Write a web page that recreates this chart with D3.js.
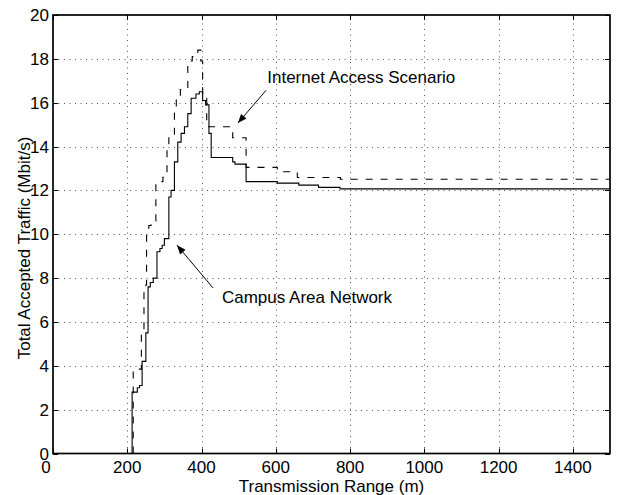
<!DOCTYPE html>
<html>
<head>
  <meta charset="UTF-8">
  <title>Total Accepted Traffic</title>
  <style>
    body { margin: 0; background: #fff; }
    text { font-family: "Liberation Sans", Arial, Helvetica, sans-serif; fill: #000; }
  </style>
</head>
<body>
<svg id="chart"></svg>
<script src="https://d3js.org/d3.v7.min.js"></script>
<script>

// Campus Area Network (solid line), step data
var campusRange = [213, 213, 227, 233, 240, 250, 256, 262, 270, 280, 288, 294, 300, 312, 318, 327, 336, 345, 354, 363, 372, 385, 394, 403, 411, 420, 426, 484, 490, 520, 604, 662, 715, 773, 1500]
var campusTraffic = [0, 2.8, 3.0, 3.1, 4.2, 5.5, 7.6, 7.8, 8.0, 9.2, 9.35, 9.5, 9.8, 11.7, 12.0, 13.3, 14.2, 14.6, 14.9, 15.5, 16.2, 16.4, 16.5, 16.1, 15.9, 14.6, 13.5, 13.3, 13.2, 12.4, 12.33, 12.24, 12.14, 12.07, 12.07]

// Internet Access Scenario (dashed line)
var internetRange = [216, 216, 238, 245, 250, 252, 258, 264, 277, 296, 307, 312, 327, 332, 343, 363, 375, 390, 398, 403, 414, 484, 520, 604, 658, 774, 1500]
var internetTraffic = [0, 3.85, 5.5, 7.4, 7.7, 10.1, 10.4, 10.6, 12.4, 12.6, 14.0, 14.5, 15.7, 16.2, 16.6, 17.9, 18.1, 18.4, 17.9, 16.2, 14.9, 14.4, 13.05, 12.85, 12.59, 12.51, 12.51]

var xTicks = [0, 200, 400, 600, 800, 1000, 1200, 1400]
var yTicks = [0, 2, 4, 6, 8, 10, 12, 14, 16, 18, 20]

// annotation text + arrow (tail -> tip), in data units
var labelNames = ["Internet Access Scenario", "Campus Area Network"]
var labelAt = [[577, 16.9], [455, 6.86]]
var arrowTail = [[574, 16.57], [431, 7.55]]
var arrowTip = [[498, 15.07], [334, 9.5]]

var width = 617, height = 495
var plotL = 53, plotR = 610, plotT = 15, plotB = 453.5

var svg = d3.select("#chart").attr("width", width).attr("height", height)

var x = d3.scaleLinear().domain([0, 1500]).range([plotL, plotR])
var y = d3.scaleLinear().domain([0, 20]).range([plotB, plotT])

// dotted grid
var grid = svg.append("g").attr("stroke", "#555").attr("stroke-width", 1).attr("stroke-dasharray", "1,4.5")
grid.selectAll("line.gx")
  .data(xTicks.filter(d => d > 0))
  .enter().append("line")
  .attr("x1", d => Math.round(x(d)) + 0.5).attr("x2", d => Math.round(x(d)) + 0.5)
  .attr("y1", plotB).attr("y2", plotT)
grid.selectAll("line.gy")
  .data(yTicks.filter(d => d > 0 && d < 20))
  .enter().append("line")
  .attr("y1", d => Math.round(y(d)) + 0.5).attr("y2", d => Math.round(y(d)) + 0.5)
  .attr("x1", plotL).attr("x2", plotR)

// inward ticks on all four sides
var ticks = svg.append("g").attr("stroke", "#000").attr("stroke-width", 1)
xTicks.forEach(function (d) {
  var px = Math.round(x(d)) + 0.5
  ticks.append("line").attr("x1", px).attr("x2", px).attr("y1", plotB).attr("y2", plotB - 5)
  ticks.append("line").attr("x1", px).attr("x2", px).attr("y1", plotT).attr("y2", plotT + 5)
})
yTicks.forEach(function (d) {
  var py = Math.round(y(d)) + 0.5
  ticks.append("line").attr("x1", plotL).attr("x2", plotL + 5).attr("y1", py).attr("y2", py)
  ticks.append("line").attr("x1", plotR).attr("x2", plotR - 5).attr("y1", py).attr("y2", py)
})

// lines
var line = d3.line().curve(d3.curveStepAfter)
  .x(d => x(d[0])).y(d => y(d[1]))

svg.append("path")
  .datum(d3.zip(internetRange, internetTraffic))
  .attr("d", line)
  .attr("fill", "none").attr("stroke", "#000").attr("stroke-width", 1.1)
  .attr("stroke-dasharray", "7,8")

svg.append("path")
  .datum(d3.zip(campusRange, campusTraffic))
  .attr("d", line)
  .attr("fill", "none").attr("stroke", "#000").attr("stroke-width", 1.1)

// frame
svg.append("rect")
  .attr("x", plotL).attr("y", plotT)
  .attr("width", plotR - plotL).attr("height", plotB - plotT)
  .attr("fill", "none").attr("stroke", "#000").attr("stroke-width", 1.7)

// tick labels
svg.selectAll("text.xl")
  .data(xTicks)
  .enter().append("text")
  .attr("x", d => x(d) - (d == 0 ? 7 : 0))
  .attr("y", 472.5)
  .attr("text-anchor", "middle")
  .style("font-size", "17px")
  .text(d => d)

svg.selectAll("text.yl")
  .data(yTicks)
  .enter().append("text")
  .attr("x", 49)
  .attr("y", d => y(d) + 6)
  .attr("text-anchor", "end")
  .style("font-size", "17px")
  .text(d => d)

// axis titles
svg.append("text")
  .attr("x", (plotL + plotR) / 2).attr("y", 492)
  .attr("text-anchor", "middle")
  .style("font-size", "17px")
  .text("Transmission Range (m)")

svg.append("text")
  .attr("transform", "translate(30,248) rotate(-90)")
  .attr("text-anchor", "middle")
  .style("font-size", "17px")
  .text("Total Accepted Traffic (Mbit/s)")

// annotations
svg.append("defs").append("marker")
  .attr("id", "head")
  .attr("viewBox", "0 -5 10 10")
  .attr("refX", 10).attr("refY", 0)
  .attr("markerUnits", "userSpaceOnUse")
  .attr("markerWidth", 11).attr("markerHeight", 9)
  .attr("orient", "auto")
  .append("path")
  .attr("d", "M0,-4L10,0L0,4Z")
  .attr("fill", "#000")

labelNames.forEach(function (name, i) {
  svg.append("line")
    .attr("x1", x(arrowTail[i][0])).attr("y1", y(arrowTail[i][1]))
    .attr("x2", x(arrowTip[i][0])).attr("y2", y(arrowTip[i][1]))
    .attr("stroke", "#000").attr("stroke-width", 1)
    .attr("marker-end", "url(#head)")
  svg.append("text")
    .attr("x", x(labelAt[i][0])).attr("y", y(labelAt[i][1]))
    .style("font-size", "17px")
    .text(name)
})

</script>
</body>
</html>
